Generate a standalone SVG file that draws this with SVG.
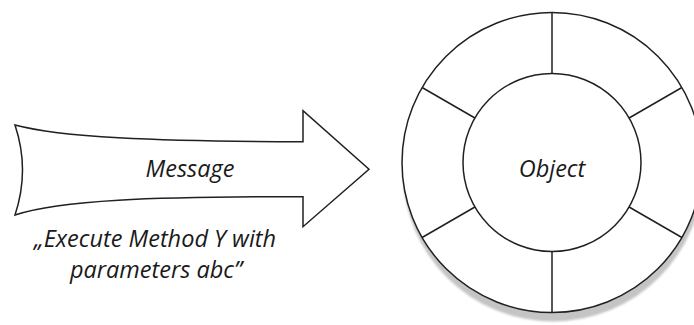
<svg xmlns="http://www.w3.org/2000/svg" width="694" height="325" viewBox="0 0 694 325">
<defs>
<filter id="blur" x="-10%" y="-10%" width="120%" height="120%"><feGaussianBlur stdDeviation="1.2"/></filter>
<style>
.ln{fill:none;stroke:#231f20;stroke-width:1.5;stroke-linejoin:miter}
.sh{fill:#ffffff;stroke:#231f20;stroke-width:1.5}
.t{font-family:"Open Sans","Noto Sans","DejaVu Sans",sans-serif;font-style:italic;font-size:23.5px;fill:#1a1a1a;text-anchor:middle}
</style>
</defs>
<rect width="694" height="325" fill="#ffffff"/>
<g id="message">
<path class="sh" d="M15,125 C60,137 150,141.7 303,141.7 L303,110.7 L369,169.3 L303,226.7 L303,196.7 C150,196.7 60,200 15,215 Q30,170 15,125 Z"/>
<text class="t" x="190" y="177">Message</text>
<text class="t" x="155" y="247">„Execute Method Y with</text>
<text class="t" x="156" y="278">parameters abc”</text>
</g>
<g id="object">
<circle cx="553" cy="171.5" r="150" fill="#c4c4c4" filter="url(#blur)"/>
<circle class="sh" cx="552" cy="162.5" r="150"/>
<circle class="sh" cx="552" cy="162.5" r="89"/>
<text class="t" x="552" y="177">Object</text>
</g>
<g id="connectors">
<path class="ln" d="M552,12.5 L552,73.5 M552,251.5 L552,312.5 M422.1,87.5 L474.9,118 M681.9,87.5 L629.1,118 M422.1,237.5 L474.9,207 M681.9,237.5 L629.1,207"/>
</g>
</svg>
